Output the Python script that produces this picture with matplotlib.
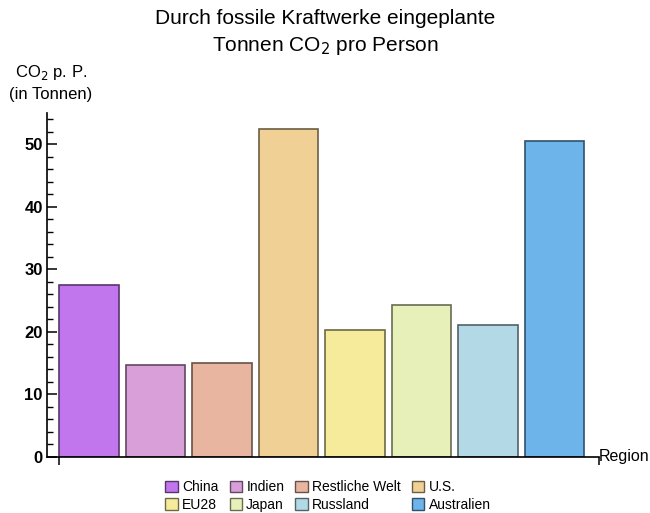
import numpy as np
import matplotlib.pyplot as plt
from matplotlib.colors import to_rgb
from matplotlib.patches import Patch

plt.rcParams['font.family'] = ['Liberation Sans', 'DejaVu Sans']

regions = ['China', 'Indien', 'Restliche Welt', 'U.S.', 'EU28', 'Japan', 'Russland', 'Australien']
values = [27.5, 14.7, 15.0, 52.4, 20.3, 24.3, 21.1, 50.6]
colors = ['#c176ee', '#d99fd8', '#e8b5a0', '#f0d095', '#f5eb9a', '#e6f0b8', '#b3d9e6', '#6cb4ea']


def darker(c, f=0.45):
    r, g, b = to_rgb(c)
    return (r * f, g * f, b * f)


edges = [darker(c) for c in colors]
xpos = np.arange(1, len(regions) + 1)

fig = plt.figure(figsize=(6.5, 5.13), dpi=100)
ax = fig.add_axes([47 / 650, 56 / 513, 552 / 650, 344 / 513])

ax.bar(xpos, values, width=0.9, color=colors, edgecolor=edges, linewidth=1.2)

ax.set_xlim(0.368, 8.669)
ax.set_ylim(0, 55)

for s in ['top', 'right']:
    ax.spines[s].set_visible(False)
ax.spines['left'].set_linewidth(1.2)
ax.spines['bottom'].set_linewidth(1.2)

ax.set_yticks(np.arange(0, 51, 10))
ax.set_yticks(np.arange(0, 55, 2), minor=True)
ax.tick_params(axis='y', which='major', direction='in', length=7, width=1.1,
               labelsize=12, pad=3)
ax.tick_params(axis='y', which='minor', direction='in', length=4, width=1.0)
for lab in ax.get_yticklabels():
    lab.set_fontweight('bold')

ax.set_xticks([0.55, 8.669])
ax.set_xticklabels([])
ax.tick_params(axis='x', direction='out', length=6, width=1.1)

fig.text(599 / 650, 56 / 513, 'Region', ha='left', va='center', fontsize=11.5)

fig.text(0.5, 1 - 18 / 513, 'Durch fossile Kraftwerke eingeplante', ha='center', va='center', fontsize=15)
fig.text(0.5, 1 - 46 / 513, 'Tonnen CO$_2$ pro Person', ha='center', va='center', fontsize=15)
fig.text(51 / 650, 1 - 72 / 513, 'CO$_2$ p. P.', ha='center', va='center', fontsize=12)
fig.text(51 / 650, 1 - 95 / 513, '(in Tonnen)', ha='center', va='center', fontsize=12)

# legend rows: fill column-major so rows read left to right
order = [0, 4, 1, 5, 2, 6, 3, 7]
handles = [Patch(facecolor=colors[i], edgecolor=edges[i], linewidth=1.0) for i in order]
labels = [regions[i] for i in order]
fig.legend(handles, labels, loc='center', bbox_to_anchor=(328 / 650, 1 - 496 / 513), ncol=4,
           frameon=False, fontsize=10, handlelength=0.9, handleheight=0.9,
           handletextpad=0.3, columnspacing=0.8, labelspacing=0.25)

fig.savefig('out.png', dpi=100)
